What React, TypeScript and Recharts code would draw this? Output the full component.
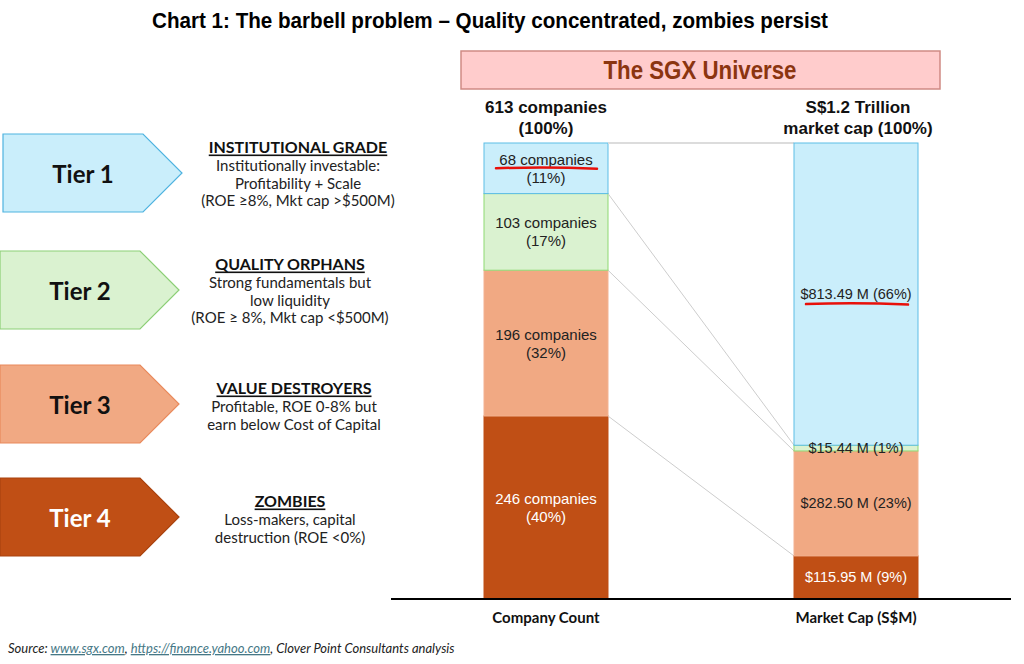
import React from 'react';
import { BarChart, Bar, XAxis, YAxis, LabelList } from 'recharts';

const categories = ['Company Count', 'Market Cap (S$M)'];
const tierKeys = ['t1', 't2', 't3', 't4'];
const companyCounts = [68, 103, 196, 246];
const marketCaps = [813.49, 15.44, 282.5, 115.95];
const tierNames = ['Tier 1', 'Tier 2', 'Tier 3', 'Tier 4'];
const tierHeadings = ['INSTITUTIONAL GRADE', 'QUALITY ORPHANS', 'VALUE DESTROYERS', 'ZOMBIES'];
const tierLines = [
  ['Institutionally investable:', 'Profitability + Scale', '(ROE ≥8%, Mkt cap >$500M)'],
  ['Strong fundamentals but', 'low liquidity', '(ROE ≥ 8%, Mkt cap <$500M)'],
  ['Profitable, ROE 0-8% but', 'earn below Cost of Capital'],
  ['Loss-makers, capital', 'destruction (ROE <0%)'],
];
const headerCompany = ['613 companies', '(100%)'];
const headerMarket = ['S$1.2 Trillion', 'market cap (100%)'];
const title = 'Chart 1: The barbell problem – Quality concentrated, zombies persist';
const universeTitle = 'The SGX Universe';

const fills = ['#CAEEFB', '#DAF2D0', '#F1A983', '#C04F15'];
const strokes = ['#5DBDE6', '#8ED973', '#F3B291', '#C04F15'];
const arrowStrokes = ['#4FB3E0', '#8CCF76', '#E98A5C', '#A9430F'];
const labelColors = ['#222', '#222', '#222', '#fff'];

const NARROW = "'Liberation Sans Narrow', 'Arial Narrow', 'Liberation Sans', sans-serif";
const BODY = "Lato, 'Noto Sans', sans-serif";
const GAP = 0.3;

const share = (src: number[]) => {
  const total = src.reduce((a, b) => a + b, 0);
  return src.map(v => (v / total) * 100);
};
const companyShares = share(companyCounts);
const marketShares = share(marketCaps);
const cumFrom = (arr: number[], t: number) => arr.slice(t).reduce((a, b) => a + b, 0);

const data = categories.map((name, i) => {
  const row: any = { name };
  const s = i === 0 ? companyShares : marketShares;
  tierKeys.forEach((k, j) => (row[k] = s[j]));
  return row;
});

// bar segment + the connector from the company bar to the market cap bar
const makeShape = (tier: number) => (props: any) => {
  const { x, y, width, height, index } = props;
  const els = [
    <rect key="r" x={x} y={y} width={width} height={height} fill={fills[tier]} stroke={strokes[tier]} strokeWidth={1} />,
  ];
  if (index === 0 && height > 0) {
    const ppp = height / companyShares[tier];
    const band = width / (1 - 2 * GAP);
    const y2 = y + (cumFrom(companyShares, tier) - cumFrom(marketShares, tier)) * ppp;
    els.push(
      <line key="l" x1={x + width} y1={y} x2={x + band} y2={y2}
        stroke={tier === 0 ? '#dcdcdc' : '#cdcdcd'} strokeWidth={tier === 0 ? 2 : 1} />
    );
  }
  return <g>{els}</g>;
};

const makeLabel = (tier: number) => (props: any) => {
  const { x, y, width, height, index } = props;
  const cx = x + width / 2;
  const cy = y + height / 2;
  const color = labelColors[tier];
  if (index === 0) {
    const pct = Math.round(companyShares[tier]);
    return (
      <g fontFamily={NARROW} fontSize={15} fill={color} textAnchor="middle">
        <text x={cx} y={cy - 9} dominantBaseline="central">{`${companyCounts[tier]} companies`}</text>
        <text x={cx} y={cy + 9} dominantBaseline="central">{`(${pct}%)`}</text>
        {tier === 0 && (
          <path d={`M${cx - 50} ${cy} Q${cx} ${cy - 2} ${cx + 51} ${cy + 0.5}`} stroke="#E8100A" strokeWidth={2.5} fill="none" strokeLinecap="round" />
        )}
      </g>
    );
  }
  const pct = Math.round(marketShares[tier]);
  return (
    <g fontFamily={NARROW} fontSize={14.5} fill={color} textAnchor="middle">
      <text x={cx} y={cy} dominantBaseline="central">{`$${marketCaps[tier].toFixed(2)} M (${pct}%)`}</text>
      {tier === 0 && (
        <path d={`M${cx - 50} ${cy + 10} Q${cx} ${cy + 8} ${cx + 52} ${cy + 10.5}`} stroke="#E8100A" strokeWidth={2.5} fill="none" strokeLinecap="round" />
      )}
    </g>
  );
};

const arrowTops = [134, 251, 365, 478];
const arrowLefts = [3, 0, 0, 0];
const descCenters = [298, 290, 294, 290];
const headingOffsets = [12, 12, 22, 22];

function Overlay() {
  return (
    <svg width={1024} height={664} style={{ position: 'absolute', left: 0, top: 0 }}>
      <text x={490} y={20} textAnchor="middle" dominantBaseline="central" fontFamily={NARROW} fontWeight={700} fontSize={22}
        fill="#000" textLength={676} lengthAdjust="spacingAndGlyphs">{title}</text>
      <rect x={461} y={51} width={479} height={38} fill="#FFCCCC" stroke="#CF8A84" strokeWidth={1.5} />
      <text x={700} y={70} textAnchor="middle" dominantBaseline="central" fontFamily={NARROW} fontWeight={700} fontSize={25}
        fill="#8B3510" textLength={193} lengthAdjust="spacingAndGlyphs">{universeTitle}</text>
      {headerCompany.map((t, i) => (
        <text key={'hc' + i} x={546} y={107 + i * 21} textAnchor="middle" dominantBaseline="central" fontFamily={NARROW} fontWeight={700} fontSize={17} fill="#111">{t}</text>
      ))}
      {headerMarket.map((t, i) => (
        <text key={'hm' + i} x={858} y={107 + i * 21} textAnchor="middle" dominantBaseline="central" fontFamily={NARROW} fontWeight={700} fontSize={17} fill="#111">{t}</text>
      ))}
      {tierNames.map((name, i) => {
        const x0 = arrowLefts[i];
        const y0 = arrowTops[i];
        const pts = `${x0},${y0} ${x0 + 140},${y0} ${x0 + 179},${y0 + 39} ${x0 + 140},${y0 + 78} ${x0},${y0 + 78}`;
        const hy = y0 + headingOffsets[i];
        return (
          <g key={name}>
            <polygon points={pts} fill={fills[i]} stroke={arrowStrokes[i]} strokeWidth={1.2} />
            <text x={x0 + 80} y={y0 + 39} textAnchor="middle" dominantBaseline="central" fontFamily={BODY} fontWeight={700} fontSize={24} fill={i === 3 ? '#fff' : '#111'}>{name}</text>
            <text x={descCenters[i]} y={hy} textAnchor="middle" dominantBaseline="central" fontFamily={BODY} fontWeight={700} fontSize={16} fill="#111" style={{ textDecoration: 'underline' }}>{tierHeadings[i]}</text>
            {tierLines[i].map((ln, j) => (
              <text key={j} x={descCenters[i]} y={hy + 19 + j * 17.5} textAnchor="middle" dominantBaseline="central" fontFamily={BODY} fontSize={15} fill="#222">{ln}</text>
            ))}
          </g>
        );
      })}
      <text x={8} y={653} fontFamily={BODY} fontStyle="italic" fontSize={13} fill="#222">
        <tspan>Source: </tspan>
        <tspan fill="#467886" style={{ textDecoration: 'underline' }}>www.sgx.com</tspan>
        <tspan>, </tspan>
        <tspan fill="#467886" style={{ textDecoration: 'underline' }}>https://finance.yahoo.com</tspan>
        <tspan>, Clover Point Consultants analysis</tspan>
      </text>
    </svg>
  );
}

export default function App() {
  return (
    <div style={{ position: 'absolute', left: 0, top: 0, width: 1024, height: 664, background: '#fff' }}>
      <Overlay />
      <div style={{ position: 'absolute', left: 381, top: 133 }}>
        <BarChart width={640} height={506} data={data} margin={{ top: 10, right: 10, left: 10, bottom: 10 }} barCategoryGap={`${GAP * 100}%`}>
          <XAxis dataKey="name" axisLine={{ stroke: '#000', strokeWidth: 2 }} tickLine={false} height={30} tickMargin={7}
            tick={{ fontSize: 15, fontWeight: 700, fill: '#111', fontFamily: BODY }} />
          <YAxis hide domain={[0, 100]} />
          {[3, 2, 1, 0].map(t => (
            <Bar key={tierKeys[t]} dataKey={tierKeys[t]} stackId="a" isAnimationActive={false} shape={makeShape(t)}>
              <LabelList dataKey={tierKeys[t]} content={makeLabel(t)} />
            </Bar>
          ))}
        </BarChart>
      </div>
    </div>
  );
}
